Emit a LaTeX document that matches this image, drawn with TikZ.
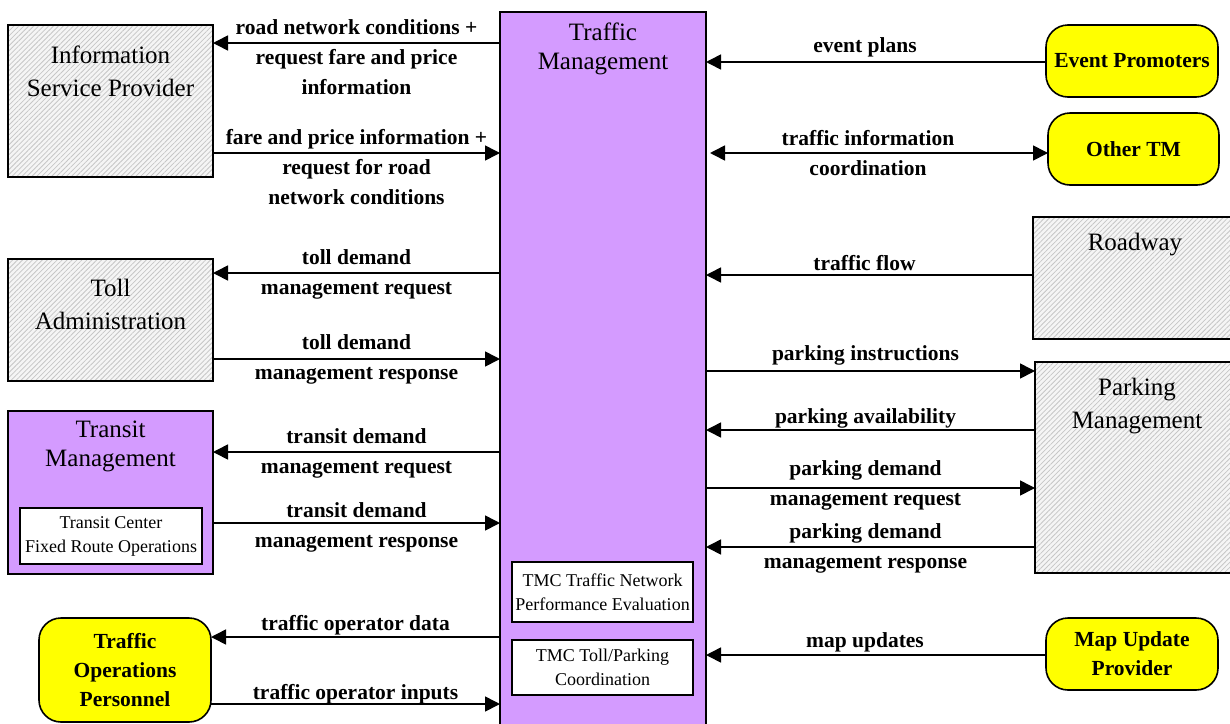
\documentclass[tikz,border=0pt]{standalone}
\usepackage{fontspec}
\setmainfont{Liberation Serif}
\usetikzlibrary{arrows.meta,patterns.meta}
\definecolor{tmpurple}{RGB}{212,155,255}
\definecolor{actyellow}{RGB}{255,255,0}
\begin{document}
\begin{tikzpicture}[x=1pt,y=-1pt,
  every node/.style={inner sep=0pt, outer sep=0pt},
  boxline/.style={draw, line width=1.6pt},
  hatchbox/.style={boxline, preaction={fill=gray!8}, pattern={Lines[angle=45,distance=3.5pt,line width=0.8pt]}, pattern color=gray!45},
  purplebox/.style={boxline, fill=tmpurple},
  whitebox/.style={draw, line width=1.3pt, fill=white, align=center, font=\fontsize{18}{24}\selectfont},
  ybox/.style={boxline, fill=actyellow, rounded corners=22pt, align=center, font=\fontsize{21.5}{29}\selectfont\bfseries},
  hfont/.style={align=center, font=\fontsize{25}{33}\selectfont},
  pfont/.style={align=center, font=\fontsize{25}{29}\selectfont},
  lbl/.style={align=center, font=\fontsize{21.5}{30}\selectfont\bfseries},
  arr/.style={line width=1.6pt, -{Triangle[length=15pt,width=15pt]}},
  darr/.style={line width=1.6pt, {Triangle[length=15pt,width=15pt]}-{Triangle[length=15pt,width=15pt]}}
]
\useasboundingbox (0,0) rectangle (1230,723);
\fill[white] (0,0) rectangle (1230,723);

% central Traffic Management
\node[purplebox, minimum width=206pt, minimum height=730pt] (TM) at (603,377) {};
\node[pfont] (TMt) at (603,49) {Traffic\\Management};
\node[whitebox, minimum width=181pt, minimum height=60pt] (TMC1) at (602.5,592) {TMC Traffic Network\\Performance Evaluation};
\node[whitebox, minimum width=181pt, minimum height=55pt] (TMC2) at (602.5,667.5) {TMC Toll/Parking\\Coordination};

% left side
\node[hatchbox, minimum width=205pt, minimum height=152pt] (ISP) at (110.5,101) {};
\node[hfont] (ISPt) at (110.5,71) {Information\\Service Provider};
\node[hatchbox, minimum width=205pt, minimum height=122pt] (TA) at (110.5,320) {};
\node[hfont] (TAt) at (110.5,304) {Toll\\Administration};
\node[purplebox, minimum width=205pt, minimum height=163pt] (TR) at (110.5,492.5) {};
\node[pfont] (TRt) at (110.5,446) {Transit\\Management};
\node[whitebox, minimum width=182pt, minimum height=56pt] (TRC) at (111,536) {Transit Center\\Fixed Route Operations};
\node[ybox, minimum width=172pt, minimum height=104pt] (TOP) at (125,670) {Traffic\\Operations\\Personnel};

% right side
\node[ybox, minimum width=172pt, minimum height=72pt] (EP) at (1132,61) {Event Promoters};
\node[ybox, minimum width=171pt, minimum height=72pt] (OTM) at (1133.5,149) {Other TM};
\node[hatchbox, minimum width=212pt, minimum height=122pt] (RW) at (1139,278) {};
\node[hfont] (RWt) at (1135,245) {Roadway};
\node[hatchbox, minimum width=210pt, minimum height=211pt] (PM) at (1140,467.5) {};
\node[hfont] (PMt) at (1137,406) {Parking\\Management};
\node[ybox, minimum width=172pt, minimum height=72pt] (MUP) at (1132,654) {Map Update\\Provider};

% left flows
\draw[arr] (TM.west |- 0,43) -- (ISP.east |- 0,43)
  node[lbl, midway, yshift=-14pt] (L1) {road network conditions +\\request fare and price\\information};
\draw[arr] (ISP.east |- 0,153) -- (TM.west |- 0,153)
  node[lbl, midway, yshift=-14pt] (L2) {fare and price information +\\request for road\\network conditions};
\draw[arr] (TM.west |- 0,273) -- (TA.east |- 0,273)
  node[lbl, midway, yshift=-1pt] (L3) {toll demand\\management request};
\draw[arr] (TA.east |- 0,359) -- (TM.west |- 0,359)
  node[lbl, midway] (L4) {toll demand\\management response};
\draw[arr] (TM.west |- 0,452) -- (TR.east |- 0,452)
  node[lbl, midway, yshift=-1.5pt] (L5) {transit demand\\management request};
\draw[arr] (TR.east |- 0,523) -- (TM.west |- 0,523)
  node[lbl, midway, yshift=-4pt] (L6) {transit demand\\management response};
\draw[arr] (TM.west |- 0,637) -- (TOP.east |- 0,637)
  node[lbl, midway, yshift=12pt] (L7) {traffic operator data};
\draw[arr] (TOP.east |- 0,704) -- (TM.west |- 0,704)
  node[lbl, midway, yshift=10pt] (L8) {traffic operator inputs};

% right flows
\draw[arr] (EP.west |- 0,62) -- (TM.east |- 0,62)
  node[lbl, midway, xshift=-11pt, yshift=15pt] (R1) {event plans};
\draw[darr, shorten <=4pt] (TM.east |- 0,153) -- (OTM.west |- 0,153)
  node[lbl, midway, xshift=-9pt] (R2) {traffic information\\coordination};
\draw[arr] (RW.west |- 0,275) -- (TM.east |- 0,275)
  node[lbl, midway, xshift=-5pt, yshift=12pt] (R3) {traffic flow};
\draw[arr] (TM.east |- 0,371) -- (PM.west |- 0,371)
  node[lbl, midway, xshift=-5pt, yshift=16pt] (R4) {parking instructions};
\draw[arr] (PM.west |- 0,430) -- (TM.east |- 0,430)
  node[lbl, midway, xshift=-5pt, yshift=12pt] (R5) {parking availability};
\draw[arr] (TM.east |- 0,488) -- (PM.west |- 0,488)
  node[lbl, midway, xshift=-5pt, yshift=2.5pt] (R6) {parking demand\\management request};
\draw[arr] (PM.west |- 0,547) -- (TM.east |- 0,547)
  node[lbl, midway, xshift=-5pt, yshift=-1pt] (R7) {parking demand\\management response};
\draw[arr] (MUP.west |- 0,655) -- (TM.east |- 0,655)
  node[lbl, midway, xshift=-11pt, yshift=13pt] (R8) {map updates};
\end{tikzpicture}
\end{document}
